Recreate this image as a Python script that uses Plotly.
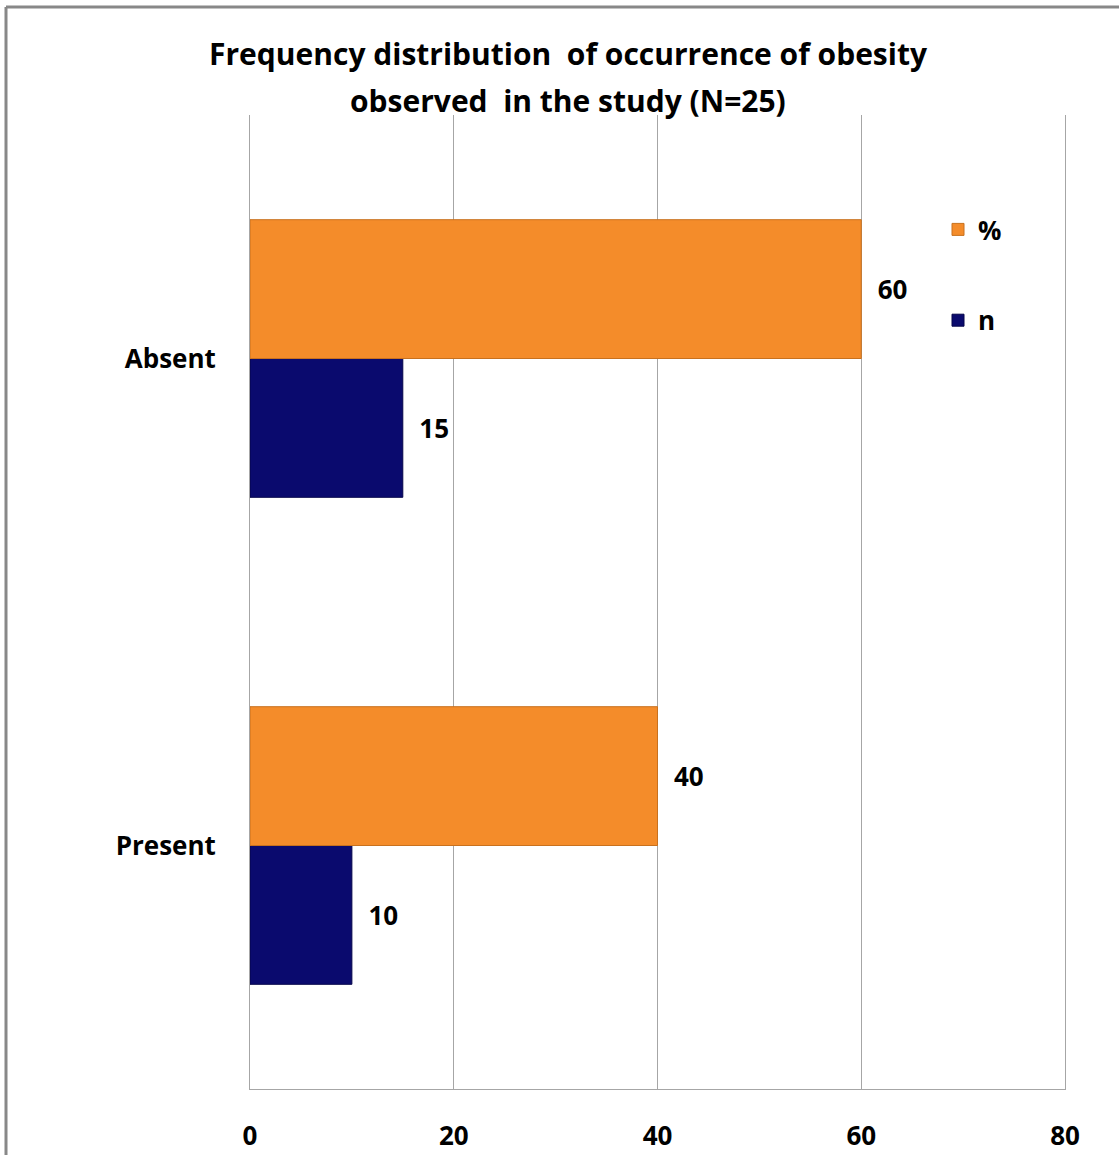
import plotly.graph_objects as go

categories = ["Present", "Absent"]
n_values = [10, 15]
pct_values = [40, 60]
x_ticks = [0, 20, 40, 60, 80]
title_lines = ["Frequency distribution  of occurrence of obesity",
               "observed  in the study (N=25)"]

W, H = 1119, 1155
L, R, T, B = 250, 54, 115, 66
pw, ph = W - L - R, H - T - B

def px_to_paper_x(px):
    return (px - L) / pw

def px_to_paper_y(py):
    return 1 - (py - T) / ph

font_family = "'Open Sans', Lato, sans-serif"
fs = 26

fig = go.Figure()
fig.add_trace(go.Bar(
    y=categories, x=n_values, name="n", orientation="h",
    marker=dict(color="#0A0A6E", line=dict(color="#05054A", width=1)),
    text=n_values, texttemplate="&nbsp;&nbsp;%{x}", textposition="outside",
    textfont=dict(size=fs, color="black", family=font_family, weight="bold"),
    legendgroup="n", legendrank=2, cliponaxis=False,
))
fig.add_trace(go.Bar(
    y=categories, x=pct_values, name="%", orientation="h",
    marker=dict(color="#F48C2A", line=dict(color="#C8711E", width=1)),
    text=pct_values, texttemplate="&nbsp;&nbsp;%{x}", textposition="outside",
    textfont=dict(size=fs, color="black", family=font_family, weight="bold"),
    legendgroup="pct", legendrank=1, cliponaxis=False,
))

annotations = [
    dict(text="<b>%s</b>" % line, xref="paper", yref="paper",
         x=px_to_paper_x(568), y=px_to_paper_y(yc), xanchor="center", yanchor="middle",
         showarrow=False, font=dict(size=30, family=font_family, color="black"))
    for line, yc in zip(title_lines, [53, 101])
]

fig.update_layout(
    width=W, height=H,
    margin=dict(l=L, r=R, t=T, b=B),
    paper_bgcolor="white", plot_bgcolor="white",
    barmode="group", bargap=0.43, bargroupgap=0,
    font=dict(family=font_family, color="black"),
    annotations=annotations,
    xaxis=dict(
        range=[0, 80], tickvals=x_ticks, showgrid=True, gridcolor="#A6A6A6", gridwidth=1,
        zeroline=False, showline=True, linecolor="#A6A6A6", linewidth=1,
        ticks="outside", ticklen=24, tickcolor="rgba(0,0,0,0)",
        tickfont=dict(size=fs, family=font_family, color="black", weight="bold"),
        fixedrange=True, automargin=False,
    ),
    yaxis=dict(
        categoryorder="array", categoryarray=categories,
        showgrid=False, zeroline=False, showline=True, mirror=True,
        linecolor="#A6A6A6", linewidth=1,
        ticks="outside", ticklen=28, tickcolor="rgba(0,0,0,0)",
        tickfont=dict(size=fs, family=font_family, color="black", weight="bold"),
        fixedrange=True, automargin=False,
    ),
    legend=dict(
        x=px_to_paper_x(938), y=px_to_paper_y(206), xanchor="left", yanchor="top",
        traceorder="grouped", tracegroupgap=54,
        font=dict(size=fs, family=font_family, color="black", weight="bold"),
        bgcolor="rgba(0,0,0,0)", itemwidth=30,
    ),
    shapes=[
        dict(type="line", xref="paper", yref="paper",
             x0=px_to_paper_x(6), x1=px_to_paper_x(W + 5),
             y0=px_to_paper_y(7), y1=px_to_paper_y(7),
             line=dict(color="#888888", width=3)),
        dict(type="line", xref="paper", yref="paper",
             x0=px_to_paper_x(6), x1=px_to_paper_x(6),
             y0=px_to_paper_y(7), y1=px_to_paper_y(H + 5),
             line=dict(color="#888888", width=3)),
    ],
)

fig.write_html("out.html")
